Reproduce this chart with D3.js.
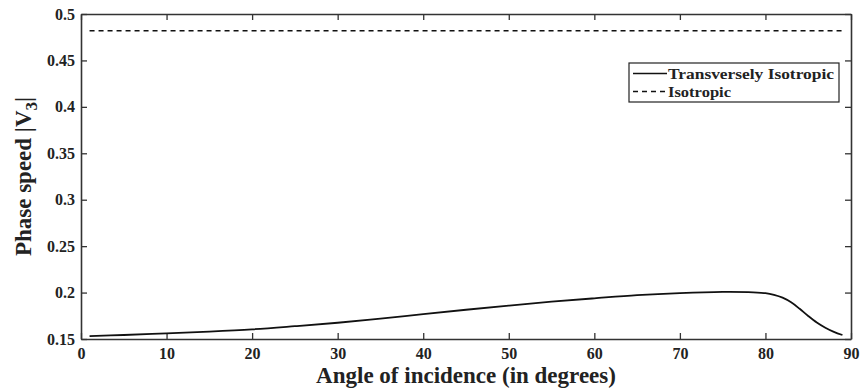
<!DOCTYPE html>
<html><head><meta charset="utf-8">
<script src="https://cdn.jsdelivr.net/npm/d3@7"></script>
<style>body{margin:0;background:#fff}svg{display:block}</style>
</head><body><svg id="c" width="861" height="389" font-family="Liberation Serif" font-weight="bold"></svg>
<script>
const angles = [1,5,10,15,20,25,30,35,40,45,50,55,60,65,70,75,78,80,81,82,83,84,85,86,87,88,89];
const transIso = [0.1532,0.1543,0.1561,0.158,0.1604,0.1638,0.1675,0.172,0.1768,0.1815,0.186,0.1902,0.1938,0.1972,0.1995,0.2008,0.2005,0.1993,0.1975,0.1945,0.1895,0.1825,0.1748,0.1678,0.1622,0.1577,0.1543];
const isoAngles = [1,89];
const isoValues = [0.482,0.482];
const xTicks = [0,10,20,30,40,50,60,70,80,90];
const yTicks = [0.15,0.2,0.25,0.3,0.35,0.4,0.45,0.5];
const legendLabels = ["Transversely Isotropic","Isotropic"];

const FF = "Liberation Serif";
const svg = d3.select("#c");
const L=81,R=851,T=14,B=339;
const x = d3.scaleLinear().domain([0,90]).range([L,R]);
const y = d3.scaleLinear().domain([0.15,0.5]).range([B,T]);
const ax = "#333";
const fmt = d=>String(d);

svg.append("g").attr("transform",`translate(0,${B})`)
  .call(d3.axisBottom(x).tickValues(xTicks).tickSizeInner(-6).tickSizeOuter(0).tickPadding(9).tickFormat(fmt))
  .attr("font-size",16);
svg.append("g").attr("transform",`translate(0,${T})`)
  .call(d3.axisTop(x).tickValues(xTicks).tickSizeInner(-6).tickSizeOuter(0).tickFormat(""));
svg.append("g").attr("transform",`translate(${L},0)`)
  .call(d3.axisLeft(y).tickValues(yTicks).tickSizeInner(-6).tickSizeOuter(0).tickPadding(6).tickFormat(fmt))
  .attr("font-size",16);
svg.append("g").attr("transform",`translate(${R},0)`)
  .call(d3.axisRight(y).tickValues(yTicks).tickSizeInner(-6).tickSizeOuter(0).tickFormat(""));
svg.selectAll("g").attr("font-family",FF);
svg.selectAll(".tick text").attr("fill","#222").attr("font-weight","bold");
svg.selectAll(".domain").attr("stroke",ax).attr("stroke-width",1.6);
svg.selectAll(".tick line").attr("stroke",ax).attr("stroke-width",1.3);

const line = d3.line().x(d=>x(d[0])).y(d=>y(d[1])).curve(d3.curveCatmullRom.alpha(0.5));
svg.append("path").datum(angles.map((a,i)=>[a,transIso[i]]))
  .attr("d",line).attr("fill","none").attr("stroke","#111").attr("stroke-width",1.8);
svg.append("path").datum(isoAngles.map((a,i)=>[a,isoValues[i]]))
  .attr("d",line).attr("fill","none").attr("stroke","#111").attr("stroke-width",1.5).attr("stroke-dasharray","5,4");

// legend
const lg = svg.append("g");
lg.append("rect").attr("x",629).attr("y",63).attr("width",210).attr("height",39).attr("fill","#fff").attr("stroke","#222").attr("stroke-width",1.2);
lg.append("line").attr("x1",633).attr("x2",667).attr("y1",73.5).attr("y2",73.5).attr("stroke","#111").attr("stroke-width",1.5);
lg.append("line").attr("x1",633).attr("x2",667).attr("y1",91.5).attr("y2",91.5).attr("stroke","#111").attr("stroke-width",1.5).attr("stroke-dasharray","5,4");
const lens = [166,63];
lg.selectAll("text.l").data(legendLabels).join("text").attr("class","l").attr("x",668).attr("y",(d,i)=>78.5+i*18)
  .attr("font-family",FF).attr("font-weight","bold").attr("fill","#222").attr("font-size",15.5)
  .attr("textLength",(d,i)=>lens[i]).attr("lengthAdjust","spacingAndGlyphs").text(d=>d);

svg.append("text").attr("x",(L+R)/2).attr("y",383).attr("text-anchor","middle")
  .attr("font-family",FF).attr("font-weight","bold").attr("fill","#222").attr("font-size",23).text("Angle of incidence (in degrees)");
const yl = svg.append("text").attr("transform",`translate(31,${(T+B)/2}) rotate(-90)`).attr("text-anchor","middle")
  .attr("font-family",FF).attr("font-weight","bold").attr("fill","#222").attr("font-size",23);
yl.append("tspan").text("Phase speed |V");
yl.append("tspan").attr("dy",6).attr("font-size",17).text("3");
yl.append("tspan").attr("dy",-6).text("|");
</script></body></html>
